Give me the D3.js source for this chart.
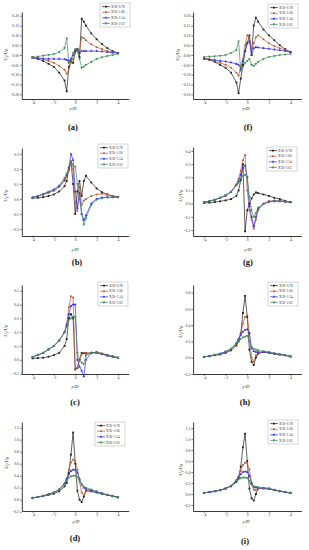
<!DOCTYPE html>
<html><head><meta charset="utf-8">
<script src="https://cdn.jsdelivr.net/npm/d3@7"></script>
<style>body{margin:0;background:#fff}svg{display:block}</style>
</head><body>
<script>
// ---------- DATA ----------
const xs = [-4,-3.5,-3,-2.5,-2,-1.5,-1,-0.8,-0.6,-0.4,-0.2,0,0.2,0.4,0.6,0.8,1,1.5,2,2.5,3,3.5,4];
const seriesNames = ["X/D=0.78","X/D=1.06","X/D=1.54","X/D=2.02"];
const xTicks = [-4,-2,0,2,4];

// (a)
const a078 = [-0.012,-0.02,-0.03,-0.045,-0.06,-0.09,-0.13,-0.185,-0.06,-0.03,-0.04,0.02,0.03,-0.01,0.185,0.17,0.15,0.11,0.08,0.055,0.035,0.02,0.01];
const a106 = [-0.01,-0.015,-0.02,-0.03,-0.04,-0.055,-0.075,-0.095,-0.07,-0.04,-0.02,0.01,0.03,0.02,0.09,0.085,0.075,0.055,0.04,0.03,0.02,0.015,0.01];
const a154 = [-0.015,-0.015,-0.018,-0.02,-0.02,-0.02,-0.022,-0.025,-0.03,-0.02,0.0,0.02,0.03,0.01,0.02,0.02,0.02,0.02,0.02,0.018,0.015,0.012,0.01];
const a202 = [-0.012,-0.008,-0.003,0.0,0.005,0.015,0.035,0.085,-0.04,-0.03,0.01,0.03,0.02,-0.02,-0.065,-0.06,-0.05,-0.035,-0.02,-0.012,-0.005,0.0,0.005];
// (f)
const f078 = [-0.017,-0.025,-0.035,-0.05,-0.065,-0.09,-0.14,-0.195,-0.12,-0.05,0.02,0.06,0.1,0.0,0.15,0.19,0.17,0.13,0.1,0.075,0.05,0.03,0.015];
const f106 = [-0.015,-0.022,-0.03,-0.04,-0.05,-0.065,-0.09,-0.105,-0.06,-0.02,0.05,0.1,0.09,0.03,0.06,0.09,0.1,0.08,0.06,0.045,0.035,0.025,0.015];
const f154 = [-0.02,-0.022,-0.025,-0.03,-0.033,-0.038,-0.045,-0.05,-0.07,-0.03,0.02,0.06,0.07,0.0,0.035,0.04,0.038,0.035,0.032,0.028,0.024,0.02,0.015];
const f202 = [-0.01,-0.008,-0.006,-0.004,0.0,0.01,0.025,0.07,-0.08,-0.06,-0.04,-0.03,-0.02,-0.05,-0.055,-0.045,-0.035,-0.02,-0.01,-0.005,0.0,0.003,0.005];
// (b)
const b078 = [0.005,0.008,0.012,0.02,0.03,0.05,0.085,0.12,0.2,0.25,0.1,-0.1,0.05,0.12,0.02,0.12,0.155,0.11,0.07,0.045,0.03,0.02,0.012];
const b106 = [0.01,0.02,0.03,0.04,0.055,0.08,0.12,0.15,0.19,0.25,0.2,-0.02,-0.08,0.08,-0.04,-0.01,0.0,0.02,0.03,0.035,0.03,0.02,0.012];
const b154 = [0.01,0.02,0.03,0.045,0.06,0.085,0.13,0.16,0.21,0.3,0.26,0.05,-0.06,0.04,-0.1,-0.14,-0.11,-0.03,0.0,0.01,0.012,0.012,0.012];
const b202 = [0.01,0.02,0.035,0.05,0.065,0.09,0.14,0.17,0.2,0.24,0.23,0.215,0.1,0.0,-0.1,-0.17,-0.13,-0.04,-0.005,0.005,0.01,0.012,0.012];
// (g)
const g078 = [0.005,0.008,0.012,0.018,0.025,0.035,0.06,0.1,0.18,0.3,-0.21,-0.05,0.0,0.04,0.07,0.085,0.08,0.07,0.06,0.045,0.035,0.022,0.012];
const g106 = [0.01,0.02,0.03,0.045,0.06,0.09,0.15,0.19,0.25,0.33,0.37,0.1,-0.05,-0.12,-0.19,-0.12,-0.05,0.0,0.02,0.025,0.022,0.016,0.012];
const g154 = [0.01,0.02,0.03,0.045,0.06,0.09,0.14,0.17,0.22,0.27,0.29,0.2,-0.02,-0.1,-0.17,-0.1,-0.04,0.0,0.015,0.02,0.02,0.015,0.012];
const g202 = [0.01,0.02,0.03,0.045,0.065,0.09,0.14,0.16,0.19,0.21,0.22,0.2,0.05,-0.05,-0.1,-0.07,-0.03,0.0,0.012,0.018,0.018,0.015,0.012];
// (c)
const c078 = [0.01,0.012,0.015,0.022,0.033,0.05,0.1,0.15,0.3,0.33,0.3,-0.07,-0.06,0.0,0.05,0.048,0.045,0.05,0.055,0.045,0.035,0.025,0.015];
const c106 = [0.02,0.035,0.05,0.075,0.1,0.14,0.2,0.26,0.38,0.46,0.45,-0.07,-0.06,0.0,0.04,0.05,0.05,0.05,0.055,0.045,0.032,0.022,0.015];
const c154 = [0.02,0.035,0.05,0.075,0.1,0.14,0.2,0.25,0.33,0.39,0.4,0.4,0.0,-0.05,-0.08,-0.12,0.0,0.05,0.05,0.04,0.03,0.022,0.015];
const c202 = [0.02,0.035,0.05,0.075,0.1,0.14,0.2,0.24,0.29,0.3,0.31,0.31,0.05,0.0,-0.02,-0.03,0.03,0.05,0.05,0.04,0.03,0.022,0.015];
// (h)
const h078 = [0.01,0.02,0.03,0.04,0.06,0.09,0.15,0.2,0.3,0.55,0.76,0.5,0.1,-0.05,-0.09,0.0,0.05,0.07,0.06,0.05,0.04,0.03,0.015];
const h106 = [0.01,0.02,0.035,0.05,0.07,0.1,0.17,0.22,0.3,0.42,0.5,0.52,0.3,0.0,-0.05,0.03,0.06,0.07,0.065,0.05,0.04,0.03,0.015];
const h154 = [0.01,0.02,0.035,0.05,0.075,0.11,0.18,0.23,0.28,0.32,0.34,0.35,0.3,0.12,0.08,0.07,0.07,0.07,0.065,0.05,0.04,0.03,0.015];
const h202 = [0.01,0.02,0.035,0.05,0.075,0.11,0.18,0.21,0.23,0.25,0.26,0.27,0.2,0.13,0.11,0.1,0.09,0.08,0.07,0.055,0.04,0.03,0.015];
// (d)
const d078 = [0.03,0.045,0.06,0.08,0.1,0.14,0.22,0.28,0.45,0.75,1.12,0.6,0.15,0.0,-0.04,0.05,0.15,0.14,0.12,0.1,0.08,0.06,0.04];
const d106 = [0.03,0.045,0.065,0.09,0.12,0.17,0.27,0.35,0.5,0.62,0.67,0.65,0.5,0.3,0.12,0.08,0.15,0.15,0.13,0.1,0.08,0.06,0.04];
const d154 = [0.03,0.045,0.065,0.09,0.12,0.17,0.27,0.35,0.43,0.48,0.5,0.5,0.45,0.35,0.25,0.2,0.18,0.16,0.13,0.1,0.08,0.06,0.04];
const d202 = [0.03,0.045,0.065,0.09,0.12,0.17,0.26,0.32,0.37,0.39,0.4,0.4,0.38,0.32,0.26,0.22,0.2,0.17,0.14,0.11,0.08,0.06,0.04];
// (i)
const i078 = [0.02,0.035,0.05,0.07,0.1,0.14,0.22,0.3,0.5,0.85,1.1,0.6,0.1,-0.08,-0.12,0.0,0.1,0.1,0.09,0.07,0.05,0.035,0.02];
const i106 = [0.02,0.035,0.05,0.07,0.1,0.15,0.25,0.32,0.42,0.53,0.57,0.56,0.45,0.2,0.08,0.07,0.1,0.11,0.1,0.075,0.055,0.035,0.02];
const i154 = [0.02,0.035,0.05,0.07,0.1,0.15,0.25,0.3,0.36,0.4,0.41,0.4,0.33,0.2,0.13,0.12,0.12,0.11,0.1,0.075,0.055,0.035,0.02];
const i202 = [0.02,0.035,0.05,0.07,0.1,0.15,0.24,0.27,0.29,0.3,0.3,0.29,0.24,0.17,0.14,0.13,0.12,0.11,0.1,0.075,0.055,0.035,0.02];

const yTicksAF = [-0.20,-0.15,-0.10,-0.05,0.00,0.05,0.10,0.15,0.20];
const yTicksB = [-0.2,-0.1,0.0,0.1,0.2,0.3];
const yTicksG = [-0.2,-0.1,0.0,0.1,0.2,0.3,0.4];
const yTicksC = [-0.1,0.0,0.1,0.2,0.3,0.4,0.5];
const yTicksH = [-0.2,0.0,0.2,0.4,0.6,0.8];
const yTicksDI = [-0.2,0.0,0.2,0.4,0.6,0.8,1.0,1.2];

// ---------- LAYOUT ----------
const colors = ["#1a1a1a","#c9552e","#2f2ff2","#3f8f58"];
const L = {xL:21.8, xR:128.7}, R = {xL:193.1, xR:301.4};
const panels = [
  {cap:"(a)", data:[a078,a106,a154,a202], yt:yTicksAF, fmt:".2f", ...L, yDom:[-0.224,0.219], yRng:[99,12], leg:[100,3], ylab:[7,55], xlab:[73,110], capPos:[73,130]},
  {cap:"(f)", data:[f078,f106,f154,f202], yt:yTicksAF, fmt:".2f", ...R, yDom:[-0.224,0.219], yRng:[99,12], leg:[268,4], ylab:[179,55], xlab:[246,110], capPos:[248,130]},
  {cap:"(b)", data:[b078,b106,b154,b202], yt:yTicksB, fmt:".1f", ...L, yDom:[-0.247,0.34], yRng:[236,148], leg:[98,144], ylab:[7,196], xlab:[75,251], capPos:[77,265]},
  {cap:"(g)", data:[g078,g106,g154,g202], yt:yTicksG, fmt:".1f", ...R, yDom:[-0.245,0.43], yRng:[236,147], leg:[267,147], ylab:[182,196], xlab:[248,251], capPos:[248,265]},
  {cap:"(c)", data:[c078,c106,c154,c202], yt:yTicksC, fmt:".1f", ...L, yDom:[-0.103,0.541], yRng:[374,285], leg:[98,282], ylab:[7,331], xlab:[75,388], capPos:[75,405]},
  {cap:"(h)", data:[h078,h106,h154,h202], yt:yTicksH, fmt:".1f", ...R, yDom:[-0.2,0.894], yRng:[374,285], leg:[268,282], ylab:[182,332], xlab:[246,388], capPos:[245,405]},
  {cap:"(d)", data:[d078,d106,d154,d202], yt:yTicksDI, fmt:".1f", ...L, yDom:[-0.188,1.295], yRng:[511,422], leg:[95,422], ylab:[8,463], xlab:[76,523], capPos:[75,541]},
  {cap:"(i)", data:[i078,i106,i154,i202], yt:yTicksDI, fmt:".1f", ...R, yDom:[-0.31,1.314], yRng:[511,422], leg:[268,420], ylab:[182,470], xlab:[246,523], capPos:[245,544]}
];

const svg = d3.select("body").append("svg").attr("width",309).attr("height",550)
  .style("font-family","'Liberation Serif','Times New Roman',serif");

function marker(g, k, cx, cy, s){
  const types=[d3.symbolSquare,d3.symbolCircle,d3.symbolTriangle,d3.symbolTriangle];
  g.append("path").attr("d", d3.symbol().type(types[k]).size(s)())
    .attr("transform",`translate(${cx},${cy})${k===3?" rotate(180)":""}`)
    .attr("fill",colors[k]);
}

panels.forEach(p=>{
  const g = svg.append("g");
  const x = d3.scaleLinear().domain([-5,5]).range([p.xL,p.xR]);
  const y = d3.scaleLinear().domain(p.yDom).range(p.yRng);
  const ax = g.append("g").attr("transform",`translate(0,${p.yRng[0]})`)
    .call(d3.axisBottom(x).tickValues(xTicks).tickSize(1.8).tickSizeOuter(0).tickPadding(1).tickFormat(d3.format("d")));
  const ay = g.append("g").attr("transform",`translate(${p.xL},0)`)
    .call(d3.axisLeft(y).tickValues(p.yt).tickSize(1.8).tickSizeOuter(0).tickPadding(1).tickFormat(d3.format(p.fmt)));
  [ax,ay].forEach(a=>{
    a.selectAll("path.domain").attr("stroke","#222").attr("stroke-width",0.9);
    a.selectAll("line").attr("stroke","#222").attr("stroke-width",0.6);
    a.selectAll("text").attr("font-size",3.8).attr("fill","#333").attr("font-family","'Liberation Serif',serif");
  });
  const line = d3.line().x((d,i)=>x(xs[i])).y(d=>y(d));
  p.data.forEach((arr,k)=>{
    g.append("path").datum(arr).attr("d",line).attr("fill","none")
      .attr("stroke",colors[k]).attr("stroke-width",0.7);
  });
  p.data.forEach((arr,k)=>{
    arr.forEach((v,i)=>marker(g,k,x(xs[i]),y(v),3.2));
  });
  const [lx,ly] = p.leg;
  const lg = g.append("g");
  lg.append("rect").attr("x",lx).attr("y",ly).attr("width",30).attr("height",24)
    .attr("fill","#fff").attr("stroke","#999").attr("stroke-width",0.4);
  seriesNames.forEach((n,k)=>{
    const yy = ly+3.6+k*5.6;
    lg.append("line").attr("x1",lx+2).attr("x2",lx+10).attr("y1",yy).attr("y2",yy)
      .attr("stroke",colors[k]).attr("stroke-width",0.7);
    marker(lg,k,lx+6,yy,3.2);
    lg.append("text").attr("x",lx+11).attr("y",yy+1.1).attr("font-size",3.4).attr("fill","#333").text(n);
  });
  g.append("text").attr("x",p.xlab[0]).attr("y",p.xlab[1]).attr("text-anchor","middle")
    .attr("font-size",4.8).attr("font-style","italic").attr("fill","#222").text("y/D");
  const yl = g.append("text").attr("transform",`translate(${p.ylab[0]},${p.ylab[1]}) rotate(-90)`)
    .attr("text-anchor","middle").attr("font-size",4.8).attr("font-style","italic").attr("fill","#222");
  yl.append("tspan").text("U");
  yl.append("tspan").attr("font-size",3.4).attr("dy",1.2).text("y");
  yl.append("tspan").attr("dy",-1.2).text("/U");
  yl.append("tspan").attr("font-size",3.4).attr("dy",1.2).text("0");
  g.append("text").attr("x",p.capPos[0]).attr("y",p.capPos[1]).attr("text-anchor","middle")
    .attr("font-size",8.5).attr("font-weight","bold").attr("fill","#111").text(p.cap);
});
</script>
</body></html>
